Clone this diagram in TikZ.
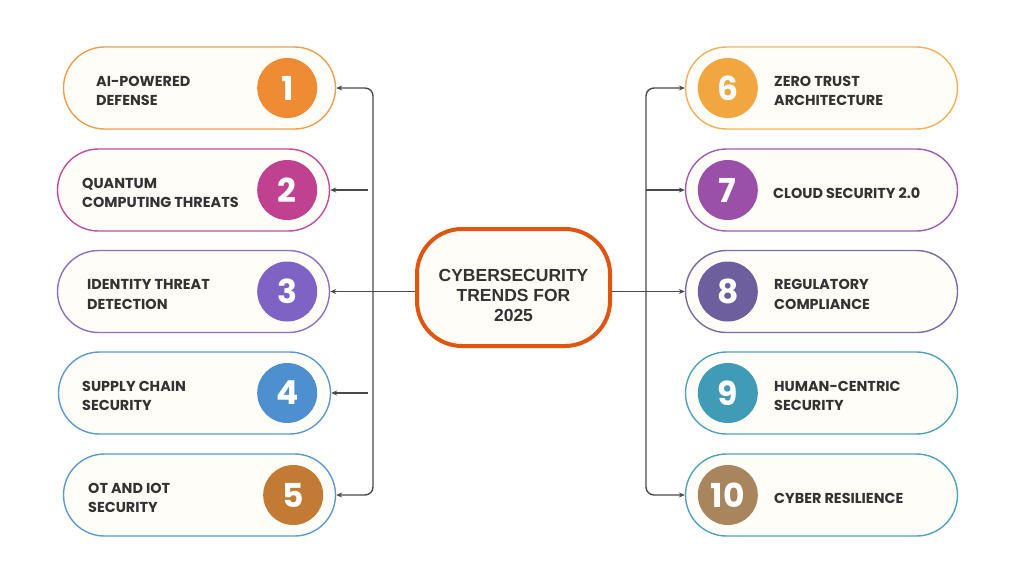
\documentclass[tikz,border=0pt]{standalone}
\usepackage{fontspec}
\setmainfont{Poppins}
\newfontfamily\hubfont{Liberation Sans}
\usetikzlibrary{arrows.meta}

\definecolor{ink}{HTML}{333333}
\definecolor{lineink}{HTML}{4A4A4A}
\definecolor{paper}{HTML}{FFFDF8}
\definecolor{hubline}{HTML}{E05510}
% box borders
\definecolor{rimone}{HTML}{F0A04B}
\definecolor{rimtwo}{HTML}{C94A9A}
\definecolor{rimthree}{HTML}{8A70C8}
\definecolor{rimfour}{HTML}{5C9AD6}
\definecolor{rimsix}{HTML}{F2B257}
\definecolor{rimseven}{HTML}{A05BB5}
\definecolor{rimeight}{HTML}{7A6AAE}
\definecolor{rimnine}{HTML}{4FA3BE}
% badges
\definecolor{dotone}{HTML}{EF8B32}
\definecolor{dottwo}{HTML}{C0418F}
\definecolor{dotthree}{HTML}{7F63C4}
\definecolor{dotfour}{HTML}{4D8FCF}
\definecolor{dotfive}{HTML}{C27A35}
\definecolor{dotsix}{HTML}{F1A640}
\definecolor{dotseven}{HTML}{9A4FA9}
\definecolor{doteight}{HTML}{6D5F9E}
\definecolor{dotnine}{HTML}{3F9BB6}
\definecolor{dotten}{HTML}{A8855D}

\tikzset{
  trend/.style={draw=#1, line width=1.4pt, fill=paper, rounded corners=41pt,
    minimum width=272pt, minimum height=82pt},
  badge/.style={circle, fill=#1, minimum size=60pt, inner sep=0pt, text=white,
    font=\bfseries\fontsize{33}{33}\selectfont},
  trendtext/.style={anchor=west, align=left, text=ink, inner sep=0pt, yshift=-3pt,
    font=\bfseries\fontsize{14.4}{19.5}\selectfont},
  hub/.style={draw=hubline, line width=4pt, fill=paper, rounded corners=45pt,
    minimum width=193pt, minimum height=117pt},
  hubtext/.style={align=center, text=ink, inner sep=0pt,
    font=\hubfont\bfseries\fontsize{17.5}{20}\selectfont},
  arrowline/.style={draw=lineink, line width=1.4pt, -{Stealth[length=6pt,width=5pt]}}
}

\begin{document}
\begin{tikzpicture}[x=1pt,y=-1pt]
  \fill[white] (0,0) rectangle (1024,576);
  \useasboundingbox (0,0) rectangle (1024,576);

  %%%%% HUB %%%%%
  \node[hub] (hub) at (513.5,287.5) {};
  \node[hubtext] (title) at ([yshift=-8pt]hub.center) {CYBERSECURITY\\TRENDS FOR\\2025};

  %%%%% LEFT %%%%%
  \node[trend=rimone]   (b1) at (199.5,88)    {};
  \node[trend=rimtwo]   (b2) at (193.5,190)   {};
  \node[trend=rimthree] (b3) at (193.5,291.5) {};
  \node[trend=rimfour]  (b4) at (194.5,393)   {};
  \node[trend=rimfour]  (b5) at (199.5,495)   {};

  \node[badge=dotone]   (n1) at ([xshift=-49pt]b1.east) {1};
  \node[badge=dottwo]   (n2) at ([xshift=-43pt]b2.east) {2};
  \node[badge=dotthree] (n3) at ([xshift=-43pt]b3.east) {3};
  \node[badge=dotfour]  (n4) at ([xshift=-44pt]b4.east) {4};
  \node[badge=dotfive]  (n5) at ([xshift=-43pt]b5.east) {5};

  \node[trendtext] (t1) at (96,88)    {AI-POWERED\\DEFENSE};
  \node[trendtext] (t2) at (82,190)   {QUANTUM\\COMPUTING THREATS};
  \node[trendtext] (t3) at (87,291.5) {IDENTITY THREAT\\DETECTION};
  \node[trendtext] (t4) at (82,393)   {SUPPLY CHAIN\\SECURITY};
  \node[trendtext] (t5) at (88,495)   {OT AND IOT\\SECURITY};

  %%%%% RIGHT %%%%%
  \node[trend=rimsix]   (b6)  at (821.5,88)    {};
  \node[trend=rimseven] (b7)  at (821.5,190)   {};
  \node[trend=rimeight] (b8)  at (821.5,291.5) {};
  \node[trend=rimnine]  (b9)  at (821.5,393)   {};
  \node[trend=rimnine]  (b10) at (821.5,495)   {};

  \node[badge=dotsix]   (n6)  at ([xshift=43pt]b6.west)  {6};
  \node[badge=dotseven] (n7)  at ([xshift=43pt]b7.west)  {7};
  \node[badge=doteight] (n8)  at ([xshift=43pt]b8.west)  {8};
  \node[badge=dotnine]  (n9)  at ([xshift=43pt]b9.west)  {9};
  \node[badge=dotten]   (n10) at ([xshift=43pt]b10.west) {10};

  \node[trendtext] (t6)  at (774,88)    {ZERO TRUST\\ARCHITECTURE};
  \node[trendtext] (t7)  at (773,190)   {CLOUD SECURITY 2.0};
  \node[trendtext] (t8)  at (774,291.5) {REGULATORY\\COMPLIANCE};
  \node[trendtext] (t9)  at (774,393)   {HUMAN-CENTRIC\\SECURITY};
  \node[trendtext] (t10) at (774,495)   {CYBER RESILIENCE};

  %%%%% CONNECTORS %%%%%
  \coordinate (lbus) at (373,291.5);
  \coordinate (rbus) at (646,291.5);

  \draw[arrowline, rounded corners=8pt] (lbus) |- (b1.east);
  \draw[arrowline, rounded corners=8pt] (lbus) |- (b5.east);
  \draw[arrowline] ([xshift=-5pt]lbus |- b2.east) -- (b2.east);
  \draw[arrowline] ([xshift=-5pt]lbus |- b4.east) -- (b4.east);
  \draw[arrowline] (hub.west |- b3.east) -- (b3.east);

  \draw[arrowline, rounded corners=8pt] (rbus) |- (b6.west);
  \draw[arrowline, rounded corners=8pt] (rbus) |- (b10.west);
  \draw[arrowline] (rbus |- b7.west) -- (b7.west);
  \draw[arrowline] (hub.east |- b8.west) -- (b8.west);
\end{tikzpicture}
\end{document}
